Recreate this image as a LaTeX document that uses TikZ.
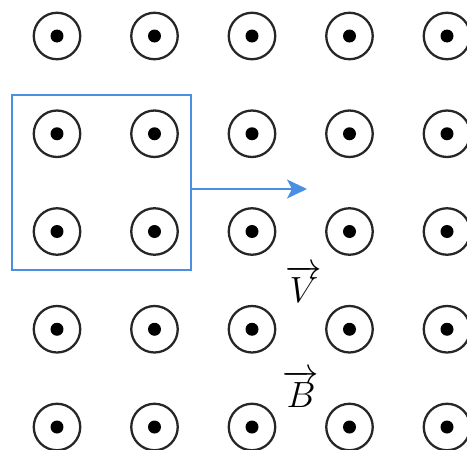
\documentclass[tikz,border=0pt]{standalone}
\usetikzlibrary{arrows.meta}
\definecolor{velblue}{RGB}{74,144,226}
\begin{document}
\begin{tikzpicture}[
  x=0.02cm, y=-0.02cm,
  bfield/.style={draw=black!85, circle, line width=1.3pt, minimum size=0.93cm, inner sep=0pt},
  bdot/.style={fill=black, circle, minimum size=0.26cm, inner sep=0pt},
  loopbox/.style={draw=velblue, line width=0.85pt, minimum width=3.58cm, minimum height=3.5cm, inner sep=0pt},
  vel/.style={draw=velblue, line width=0.85pt, -{Stealth[length=0.4cm, width=0.38cm, inset=0.1cm]}},
  vlbl/.style={font=\fontsize{20}{24}\selectfont, anchor=base, inner sep=0pt},
]
\clip (0,0) rectangle (467,450);
\useasboundingbox (0,0) rectangle (467,450);
% field pointing out of the page
\foreach \i in {0,...,4} {
  \foreach \j in {0,...,4} {
    \node[bfield] (b-\i-\j) at ({57+97.5*\i}, {36+97.75*\j}) {};
    \node[bdot] (d-\i-\j) at (b-\i-\j) {};
  }
}
% conducting loop and its velocity
\node[loopbox] (frame) at (101.5, 182.5) {};
\coordinate (tip) at (307, 189);
\draw[vel] (frame.east |- tip) -- (tip);
% labels
\node[vlbl] (vlabel) at (304, 302) {$\overrightarrow{V}$};
\node[vlbl] (blabel) at (301, 407) {$\overrightarrow{B}$};
\end{tikzpicture}
\end{document}
